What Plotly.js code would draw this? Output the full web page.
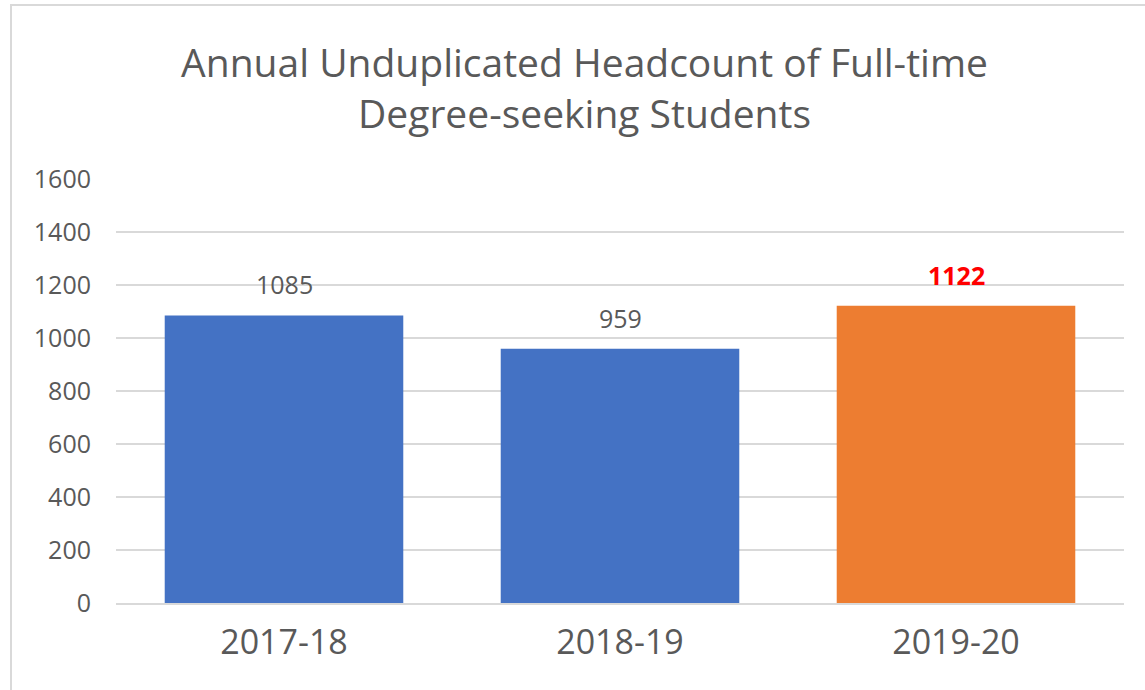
<!DOCTYPE html>
<html>
<head>
<meta charset="utf-8">
<script src="https://cdn.plot.ly/plotly-3.0.1.min.js"></script>
<style>
  html, body { margin: 0; padding: 0; background: #ffffff; }
  #frame { position: absolute; left: 10px; top: 4px; width: 1135px; height: 686px;
           border-left: 2px solid #d9d9d9; border-top: 2px solid #d9d9d9; box-sizing: border-box; pointer-events: none; z-index: 5; }
  #chart { position: absolute; left: 0; top: 0; width: 1145px; height: 690px; }
</style>
</head>
<body>
<div id="chart"></div>
<div id="frame"></div>
<script>
const categories = ["2017-18", "2018-19", "2019-20"];
const headcounts = [1085, 959, 1122];
const barColors = ["#4472C4", "#4472C4", "#ED7D31"];
const labelColors = ["#595959", "#595959", "#FF0000"];
const labelBold = [false, false, true];
const yTicks = [0, 200, 400, 600, 800, 1000, 1200, 1400, 1600];

const FONT = "Open Sans, Noto Sans, sans-serif";
const GRAY = "#595959";

const trace = {
  type: "bar",
  x: categories,
  y: headcounts,
  marker: { color: barColors, line: { width: 0 } },
  hoverinfo: "x+y"
};

const annotations = categories.map((c, i) => ({
  x: c,
  y: headcounts[i],
  xref: "x",
  yref: "y",
  text: labelBold[i] ? "<b>" + headcounts[i] + "</b>" : String(headcounts[i]),
  showarrow: false,
  yanchor: "bottom",
  yshift: 12,
  font: { family: FONT, size: 25, color: labelColors[i] }
}));

const layout = {
  width: 1145,
  height: 690,
  margin: { l: 116, r: 21, t: 179, b: 87 },
  paper_bgcolor: "#ffffff",
  plot_bgcolor: "#ffffff",
  showlegend: false,
  bargap: 0.29,
  title: {
    text: "Annual Unduplicated Headcount of Full-time<br>Degree-seeking Students",
    font: { family: FONT, size: 39, color: GRAY },
    x: 0.5105,
    xanchor: "center",
    yref: "container",
    y: 0.888,
    yanchor: "middle"
  },
  xaxis: {
    type: "category",
    tickfont: { family: FONT, size: 34, color: GRAY },
    showgrid: false,
    showline: true,
    linecolor: "#d9d9d9",
    linewidth: 2,
    ticks: "",
    ticklabelstandoff: 8,
    zeroline: false
  },
  yaxis: {
    range: [0, 1600],
    tickvals: yTicks,
    ticktext: yTicks.map(String),
    tickfont: { family: FONT, size: 25, color: GRAY },
    showgrid: true,
    gridcolor: "#d9d9d9",
    gridwidth: 2,
    zeroline: false,
    showline: false,
    ticks: "",
    ticklabelstandoff: 24
  },
  annotations: annotations
};

Plotly.newPlot("chart", [trace], layout, { displayModeBar: false, staticPlot: true });
</script>
</body>
</html>
